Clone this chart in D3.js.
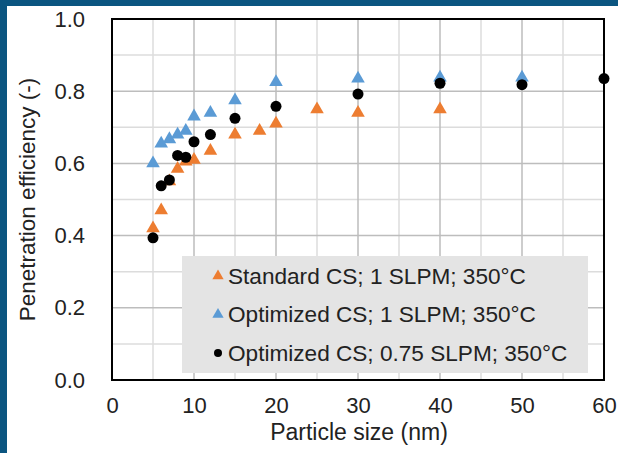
<!DOCTYPE html>
<html>
<head>
<meta charset="utf-8">
<script src="https://cdn.jsdelivr.net/npm/d3@7"></script>
<style>
body { margin: 0; background: #fff; }
svg text { font-family: "Liberation Sans", Arial, sans-serif; fill: #222; }
</style>
</head>
<body>
<svg width="618" height="453"></svg>
<script>
// values
var standardX = [5, 6, 7, 8, 9, 10, 12, 15, 18, 20, 25, 30, 40];
var standardY = [0.42, 0.47, 0.55, 0.585, 0.605, 0.61, 0.635, 0.68, 0.69, 0.71, 0.75, 0.74, 0.75];
var optX = [5, 6, 7, 8, 9, 10, 12, 15, 20, 30, 40, 50];
var optY = [0.60, 0.655, 0.667, 0.68, 0.69, 0.73, 0.74, 0.775, 0.825, 0.835, 0.838, 0.838];
var opt75X = [5, 6, 7, 8, 9, 10, 12, 15, 20, 30, 40, 50, 60];
var opt75Y = [0.394, 0.538, 0.554, 0.622, 0.617, 0.66, 0.68, 0.725, 0.758, 0.792, 0.822, 0.818, 0.835];
var seriesNames = ["Standard CS; 1 SLPM; 350°C", "Optimized CS; 1 SLPM; 350°C", "Optimized CS; 0.75 SLPM; 350°C"];
var xTicks = [0, 10, 20, 30, 40, 50, 60];
var yTicks = [0, 0.2, 0.4, 0.6, 0.8, 1.0];

var svg = d3.select("svg"),
  width = +svg.attr("width"),
  height = +svg.attr("height");

// frame of the slide
svg.append("rect").attr("width", width).attr("height", height).attr("fill", "#0b5580");
svg.append("rect").attr("x", 7).attr("y", 6).attr("width", width - 7).attr("height", height - 6).attr("fill", "#fff");

var pLeft = 112, pRight = 604, pTop = 19, pBottom = 380;

var x = d3.scaleLinear().domain([0, 60]).range([pLeft, pRight]);
var y = d3.scaleLinear().domain([0, 1]).range([pBottom, pTop]);

// grid: minor every 5 / 0.1, major every 10 / 0.2
var grid = svg.append("g");
grid.selectAll(".vminor")
  .data(d3.range(5, 60, 10))
  .enter().append("line")
  .attr("x1", d => x(d)).attr("x2", d => x(d))
  .attr("y1", pTop).attr("y2", pBottom)
  .attr("stroke", "#dcdcdc").attr("stroke-width", 1.5);
grid.selectAll(".hminor")
  .data(d3.range(0.1, 1, 0.2))
  .enter().append("line")
  .attr("x1", pLeft).attr("x2", pRight)
  .attr("y1", d => y(d)).attr("y2", d => y(d))
  .attr("stroke", "#dcdcdc").attr("stroke-width", 1.5);
grid.selectAll(".vmajor")
  .data(xTicks.slice(1, -1))
  .enter().append("line")
  .attr("x1", d => x(d)).attr("x2", d => x(d))
  .attr("y1", pTop).attr("y2", pBottom)
  .attr("stroke", "#bdbdbd").attr("stroke-width", 1.5);
grid.selectAll(".hmajor")
  .data(yTicks.slice(1, -1))
  .enter().append("line")
  .attr("x1", pLeft).attr("x2", pRight)
  .attr("y1", d => y(d)).attr("y2", d => y(d))
  .attr("stroke", "#bdbdbd").attr("stroke-width", 1.5);

// axes, labels only
var xAxis = svg.append("g")
  .attr("transform", "translate(0," + (pBottom + 17) + ")")
  .call(d3.axisBottom(x).tickValues(xTicks).tickSize(0).tickPadding(0).tickFormat(d3.format("d")));
xAxis.select(".domain").remove();
xAxis.selectAll("text").style("font-size", "22px").attr("dy", "0.71em").attr("fill", "#222");

var yAxis = svg.append("g")
  .attr("transform", "translate(" + (pLeft - 27) + ",0)")
  .call(d3.axisLeft(y).tickValues(yTicks).tickSize(0).tickPadding(0).tickFormat(d3.format(".1f")));
yAxis.select(".domain").remove();
yAxis.selectAll("text").style("font-size", "22px").attr("fill", "#222");

svg.append("text")
  .attr("x", (pLeft + pRight) / 2 + 1).attr("y", 440)
  .attr("text-anchor", "middle")
  .style("font-size", "23px")
  .text("Particle size (nm)");

svg.append("text")
  .attr("transform", "translate(35," + (pTop + pBottom) / 2 + ")rotate(-90)")
  .attr("text-anchor", "middle")
  .style("font-size", "22.5px")
  .text("Penetration efficiency (-)");

// points
var tri = d3.symbol().type(d3.symbolTriangle).size(80);
var pts = svg.append("g");

pts.selectAll(".std")
  .data(d3.zip(standardX, standardY))
  .enter().append("path")
  .attr("d", tri)
  .attr("transform", d => "translate(" + x(d[0]) + "," + y(d[1]) + ")")
  .attr("fill", "#ed7d31");

pts.selectAll(".opt")
  .data(d3.zip(optX, optY))
  .enter().append("path")
  .attr("d", tri)
  .attr("transform", d => "translate(" + x(d[0]) + "," + y(d[1]) + ")")
  .attr("fill", "#5b9bd5");

pts.selectAll(".opt75")
  .data(d3.zip(opt75X, opt75Y))
  .enter().append("circle")
  .attr("cx", d => x(d[0])).attr("cy", d => y(d[1]))
  .attr("r", 5.5)
  .attr("fill", "#000");

// legend
var legend = svg.append("g");
legend.append("rect")
  .attr("x", 182).attr("y", 256).attr("width", 406).attr("height", 117)
  .attr("fill", "#e4e4e4");

var rowY = [276, 314.5, 353];
var rows = legend.selectAll(".row")
  .data(seriesNames)
  .enter().append("g")
  .attr("transform", (d, i) => "translate(218," + rowY[i] + ")");

rows.filter((d, i) => i < 2).append("path")
  .attr("d", d3.symbol().type(d3.symbolTriangle).size(55))
  .attr("fill", (d, i) => ["#ed7d31", "#5b9bd5"][i]);
rows.filter((d, i) => i == 2).append("circle")
  .attr("r", 4).attr("fill", "#000");

rows.append("text")
  .attr("x", 10).attr("dy", "0.35em")
  .style("font-size", "22.6px")
  .text(d => d);

// frame of plot area
svg.append("rect")
  .attr("x", pLeft).attr("y", pTop)
  .attr("width", pRight - pLeft).attr("height", pBottom - pTop)
  .attr("fill", "none").attr("stroke", "#000").attr("stroke-width", 2);

// the last black point sits on the frame
pts.raise();
</script>
</body>
</html>
